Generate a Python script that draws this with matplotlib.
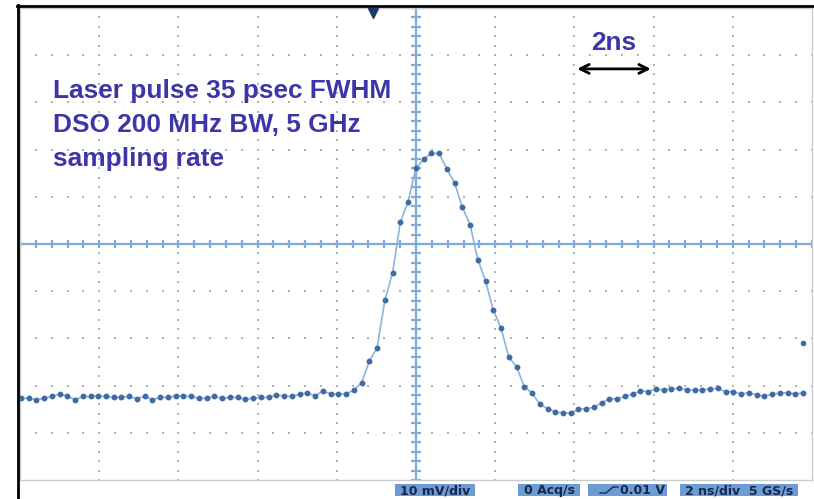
import numpy as np
import matplotlib
matplotlib.use("Agg")
import matplotlib.pyplot as plt
from matplotlib.patches import Rectangle
from matplotlib.lines import Line2D

W, H = 814, 499

# ---------------- data ----------------
T_START_NS = -9.98          # time of first sample
SAMPLE_NS = 0.1956          # sample interval as drawn (5 GS/s)
voltage_mv = [
    -32.7, -32.7, -33.0, -32.7, -32.3, -31.8, -32.2, -33.0, -32.3, -32.3,
    -32.2, -32.3, -32.5, -32.5, -32.3, -32.8, -32.2, -33.0, -32.5, -32.5,
    -32.2, -32.2, -32.3, -32.7, -32.7, -32.3, -32.7, -32.5, -32.5, -32.9,
    -32.7, -32.5, -32.5, -32.0, -32.2, -32.3, -31.8, -31.6, -32.2, -31.1,
    -31.8, -31.8, -31.8, -30.9, -29.4, -24.8, -22.0, -11.9, -6.1, 4.6,
    9.0, 16.0, 18.0, 19.2, 19.2, 15.9, 13.0, 7.8, 4.1, -3.3,
    -7.8, -14.0, -17.8, -24.0, -26.0, -30.2, -31.6, -33.9, -34.9, -35.6,
    -35.8, -35.8, -35.0, -34.9, -34.6, -33.6, -32.8, -32.8, -32.3, -31.8,
    -31.1, -31.3, -30.7, -31.0, -30.7, -30.6, -30.9, -31.0, -30.9, -30.7,
    -30.6, -31.3, -31.3, -31.8, -31.5, -32.0, -32.3, -31.8, -31.6, -31.5,
    -31.8, -31.5,
]
time_ns = T_START_NS + SAMPLE_NS * np.arange(len(voltage_mv))

stray_point = (9.77, -21.0)      # lone dot at right edge
trigger_time_ns = -1.09          # trigger position marker on top edge

annotation_lines = ["Laser pulse 35 psec FWHM", "DSO 200 MHz BW, 5 GHz", "sampling rate"]
scale_label = "2ns"
scale_span_ns = (4.0, 6.0)
status_labels = ["10 mV/div", "0 Acq/s", "0.01 V", "2 ns/div  5 GS/s"]

# ---------------- figure ----------------
fig = plt.figure(figsize=(W / 100, H / 100), dpi=100)
fig.patch.set_facecolor("white")


def fx(px):
    return px / W


def fy(py):
    return 1 - py / H


ax = fig.add_axes([fx(20), fy(480), (812 - 20) / W, (480 - 8) / H])
ax.set_xlim(-10, 10)
ax.set_ylim(-50, 50)
ax.set_xticks([])
ax.set_yticks([])
for s in ax.spines.values():
    s.set_color("#c9ccd0")
    s.set_linewidth(1.0)

# dotted graticule
dot_col = "#aeb3ba"
for gx in [-8, -6, -4, -2, 2, 4, 6, 8]:
    ys = np.arange(-50, 50.01, 2)
    ax.scatter(np.full_like(ys, gx), ys, s=2.0, marker="s", color=dot_col, linewidths=0, zorder=1)
for gy in [-40, -30, -20, -10, 10, 20, 30, 40]:
    xs = np.arange(-10, 10.01, 0.4)
    ax.scatter(xs, np.full_like(xs, gy), s=2.0, marker="s", color=dot_col, linewidths=0, zorder=1)

# centre axes with minor ticks
axis_col = "#80acd9"
ax.axhline(0, color=axis_col, lw=1.6, zorder=2)
ax.axvline(0, color=axis_col, lw=1.6, zorder=2)
yt = np.arange(-50, 50.01, 2)
ax.plot(np.zeros_like(yt), yt, ls="none", marker="_", ms=7.5, mew=1.6, color=axis_col, zorder=2)
xt = np.arange(-10, 10.01, 0.4)
ax.plot(xt, np.zeros_like(xt), ls="none", marker="|", ms=6, mew=1.6, color=axis_col, zorder=2)

# trace
ax.plot(time_ns, voltage_mv, color="#8db3dd", lw=1.2, zorder=3)
ax.plot(time_ns, voltage_mv, ls="none", marker="o", ms=3.2, mfc="#3f6aa3", mec="#3f6aa3", zorder=4)
ax.plot([stray_point[0]], [stray_point[1]], ls="none", marker="o", ms=3.0, color="#3f6aa3", zorder=4)

# trigger marker
ax.plot([trigger_time_ns], [49.0], ls="none", marker="v", ms=6.5, color="#1f3b66", clip_on=False, zorder=5)

# annotation text
txt_col = "#3d35a8"
for line, yv in zip(annotation_lines, [30.9, 23.7, 16.5]):
    ax.text(-9.17, yv, line, fontsize=18.9, fontweight="bold", color=txt_col,
            family="Liberation Sans", va="baseline", ha="left", zorder=6)
ax.text(5.0, 41.1, scale_label, fontsize=18.9, fontweight="bold", color=txt_col,
        family="Liberation Sans", va="baseline", ha="center", zorder=6)
ax.annotate("", xy=(scale_span_ns[1], 37.1), xytext=(scale_span_ns[0], 37.1),
            arrowprops=dict(arrowstyle="<->", lw=2.0, color="black", mutation_scale=16), zorder=6)

# outer black frame (top and left)
fig.add_artist(Line2D([fx(17), 1.0], [fy(6), fy(6)], color="black", lw=2.0))
fig.add_artist(Line2D([fx(18), fx(18)], [fy(5), 0.0], color="black", lw=2.0))

# status boxes at bottom
box_col = "#6d9bd6"
box_txt = "#17284a"
boxes = [(395, 475), (518, 580), (588, 667), (680, 798)]
for (x0, x1), lab in zip(boxes, status_labels):
    fig.add_artist(Rectangle((fx(x0), fy(496)), (x1 - x0) / W, 12 / H,
                             transform=fig.transFigure, facecolor=box_col, edgecolor="none"))
    if lab == "0.01 V":
        fig.text(fx(643), fy(490.5), lab, fontsize=9, fontweight="bold", color=box_txt,
                 family="DejaVu Sans", ha="center", va="center")
        fig.add_artist(Line2D([fx(600), fx(606), fx(613), fx(618)],
                              [fy(493), fy(493), fy(487), fy(487)], color=box_txt, lw=1.0))
    else:
        fig.text(fx((x0 + x1) / 2), fy(490.5), lab, fontsize=9, fontweight="bold", color=box_txt,
                 family="DejaVu Sans", ha="center", va="center")

fig.savefig("out.png", dpi=100, facecolor="white")
